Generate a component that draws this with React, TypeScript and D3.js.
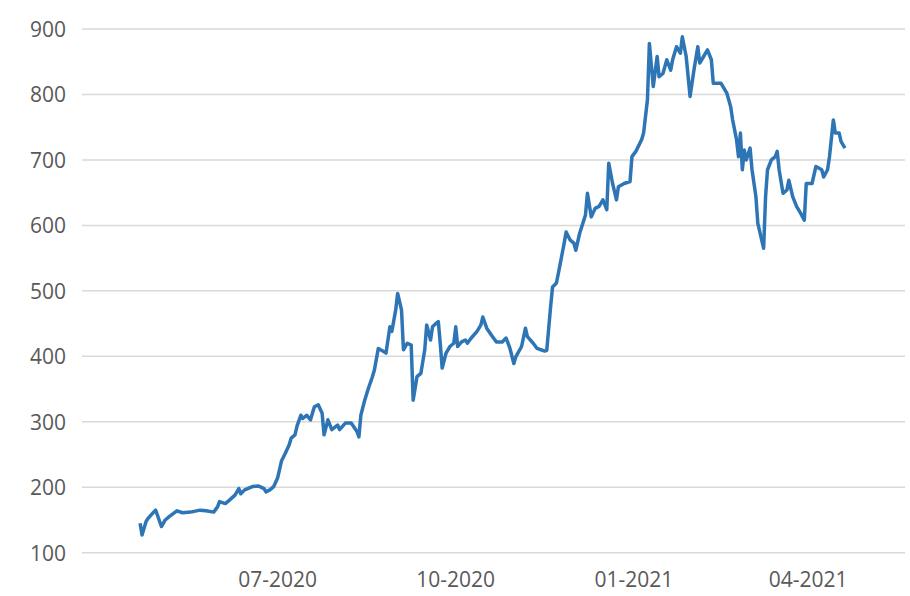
import * as d3 from "d3";
import React from "react";

// daily closes
const dates = [
  "2020-04-21", "2020-04-22", "2020-04-24", "2020-04-25", "2020-04-28", "2020-04-29", "2020-04-30",
  "2020-05-02", "2020-05-04", "2020-05-06", "2020-05-10", "2020-05-13", "2020-05-17", "2020-05-22",
  "2020-05-25", "2020-05-29", "2020-05-31", "2020-06-01", "2020-06-04", "2020-06-06", "2020-06-09",
  "2020-06-11", "2020-06-12", "2020-06-14", "2020-06-18", "2020-06-21", "2020-06-24", "2020-06-25",
  "2020-06-27", "2020-06-29", "2020-07-01", "2020-07-03", "2020-07-05", "2020-07-07", "2020-07-08",
  "2020-07-10", "2020-07-11", "2020-07-13", "2020-07-14", "2020-07-16", "2020-07-18", "2020-07-20",
  "2020-07-22", "2020-07-24", "2020-07-25", "2020-07-27", "2020-07-29", "2020-08-01", "2020-08-02",
  "2020-08-05", "2020-08-08", "2020-08-11", "2020-08-12", "2020-08-13", "2020-08-15", "2020-08-17",
  "2020-08-19", "2020-08-20", "2020-08-22", "2020-08-25", "2020-08-26", "2020-08-28", "2020-08-29",
  "2020-08-31", "2020-09-01", "2020-09-03", "2020-09-04", "2020-09-06", "2020-09-08", "2020-09-09",
  "2020-09-11", "2020-09-13", "2020-09-15", "2020-09-16", "2020-09-18", "2020-09-19", "2020-09-20",
  "2020-09-22", "2020-09-23", "2020-09-24", "2020-09-26", "2020-09-28", "2020-09-30", "2020-10-01",
  "2020-10-02", "2020-10-04", "2020-10-06", "2020-10-07", "2020-10-09", "2020-10-12", "2020-10-14",
  "2020-10-15", "2020-10-17", "2020-10-20", "2020-10-22", "2020-10-25", "2020-10-27", "2020-10-29",
  "2020-10-31", "2020-11-01", "2020-11-04", "2020-11-06", "2020-11-07", "2020-11-10", "2020-11-12",
  "2020-11-14", "2020-11-16", "2020-11-17", "2020-11-19", "2020-11-20", "2020-11-22", "2020-11-24",
  "2020-11-26", "2020-11-27", "2020-11-29", "2020-12-01", "2020-12-02", "2020-12-04", "2020-12-07",
  "2020-12-08", "2020-12-10", "2020-12-12", "2020-12-14", "2020-12-16", "2020-12-18", "2020-12-19",
  "2020-12-21", "2020-12-23", "2020-12-24", "2020-12-27", "2020-12-30", "2020-12-31", "2021-01-02",
  "2021-01-05", "2021-01-06", "2021-01-08", "2021-01-09", "2021-01-11", "2021-01-13", "2021-01-14",
  "2021-01-16", "2021-01-18", "2021-01-20", "2021-01-21", "2021-01-23", "2021-01-25", "2021-01-26",
  "2021-01-28", "2021-01-30", "2021-02-01", "2021-02-03", "2021-02-04", "2021-02-06", "2021-02-08",
  "2021-02-10", "2021-02-11", "2021-02-13", "2021-02-15", "2021-02-18", "2021-02-20", "2021-02-21",
  "2021-02-23", "2021-02-24", "2021-02-25", "2021-02-26", "2021-02-27", "2021-02-28", "2021-03-02",
  "2021-03-03", "2021-03-05", "2021-03-06", "2021-03-09", "2021-03-10", "2021-03-11", "2021-03-13",
  "2021-03-15", "2021-03-16", "2021-03-17", "2021-03-19", "2021-03-21", "2021-03-22", "2021-03-24",
  "2021-03-26", "2021-03-28", "2021-03-30", "2021-03-31", "2021-04-03", "2021-04-05", "2021-04-08",
  "2021-04-09", "2021-04-11", "2021-04-12", "2021-04-14", "2021-04-15", "2021-04-17", "2021-04-18",
  "2021-04-20",
];

const prices = [
  145, 127, 147, 152, 162, 165, 157,
  140, 150, 155, 164, 161, 162, 165,
  164, 162, 170, 178, 175, 180, 188,
  198, 190, 196, 201, 202, 198, 193,
  196, 201, 214, 240, 252, 265, 275,
  280, 293, 310, 305, 310, 303, 323,
  326, 313, 280, 303, 288, 295, 288,
  298, 298, 285, 277, 310, 333, 352,
  369, 379, 412, 407, 405, 445, 438,
  471, 496, 471, 410, 420, 417, 333,
  369, 374, 410, 448, 425, 445, 448,
  453, 420, 382, 405, 415, 420, 445,
  415, 422, 425, 420, 428, 438, 448,
  460, 443, 430, 422, 422, 428, 412,
  389, 399, 415, 443, 430, 420, 412,
  410, 408, 409, 476, 506, 512, 542,
  573, 590, 578, 573, 562, 588, 616,
  649, 613, 626, 629, 639, 624, 695,
  664, 639, 659, 664, 667, 705, 713,
  731, 741, 792, 878, 812, 858, 827,
  832, 853, 837, 853, 873, 863, 888,
  858, 797, 837, 873, 848, 858, 868,
  853, 817, 817, 817, 802, 781, 761,
  731, 705, 741, 685, 715, 700, 718,
  685, 644, 603, 565, 644, 685, 700,
  705, 713, 685, 649, 654, 669, 644,
  629, 619, 608, 664, 664, 690, 685,
  674, 685, 705, 761, 741, 741, 728,
  718,
];

const yTickValues = [100, 200, 300, 400, 500, 600, 700, 800, 900];
const xTickDates = ["2020-07-01", "2020-10-01", "2021-01-01", "2021-04-01"];

export default function App() {
  const width = 910;
  const height = 596;
  const left = 82;
  const right = 905;
  const top = 29;
  const bottom = 552.7;

  const parse = d3.timeParse("%Y-%m-%d");
  const points = dates.map((d, i) => ({ date: parse(d), value: prices[i] }));

  const x = d3
    .scaleTime()
    .domain([parse("2020-03-22"), parse("2021-05-21")])
    .range([left, right]);

  const y = d3.scaleLinear().domain([100, 900]).range([bottom, top]);

  const line = d3
    .line()
    .x((d) => x(d.date))
    .y((d) => y(d.value));

  const fmt = d3.timeFormat("%m-%Y");
  const font = "'Open Sans', 'Segoe UI', sans-serif";

  return (
    <svg
      width={width}
      height={height}
      style={{ position: "absolute", left: 0, top: 0, background: "#fff" }}
    >
      <g>
        {yTickValues.map((v) => (
          <g key={v}>
            <line
              x1={left}
              x2={right}
              y1={y(v)}
              y2={y(v)}
              stroke="#d9d9d9"
              strokeWidth="1.5"
            />
            <text
              x={66}
              y={y(v) + 8}
              textAnchor="end"
              fontSize="21"
              fontFamily={font}
              fill="#595959"
            >
              {v}
            </text>
          </g>
        ))}
      </g>
      <g>
        {xTickDates.map((d) => (
          <text
            key={d}
            x={x(parse(d))}
            y={587}
            textAnchor="middle"
            fontSize="21"
            fontFamily={font}
            fill="#595959"
          >
            {fmt(parse(d))}
          </text>
        ))}
      </g>
      <path
        d={line(points)}
        fill="none"
        stroke="#2e75b6"
        strokeWidth="3.5"
        strokeLinejoin="round"
      />
    </svg>
  );
}
